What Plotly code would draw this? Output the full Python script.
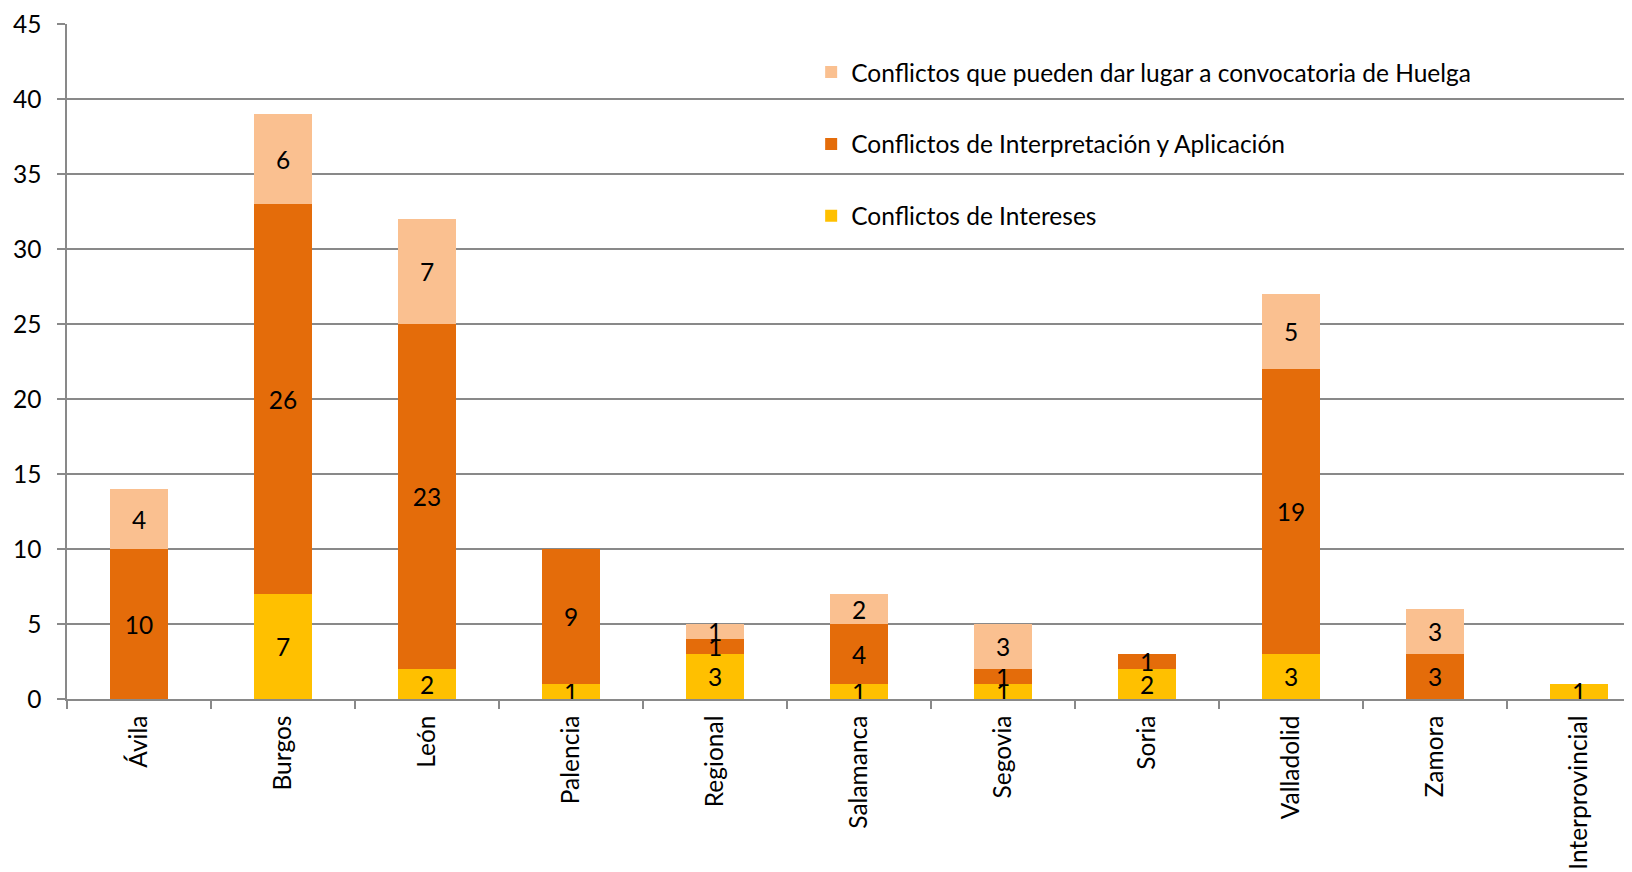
import plotly.graph_objects as go

categories = ["Ávila", "Burgos", "León", "Palencia", "Regional", "Salamanca",
              "Segovia", "Soria", "Valladolid", "Zamora", "Interprovincial"]
intereses = [0, 7, 2, 1, 3, 1, 1, 2, 3, 0, 1]
interpretacion = [10, 26, 23, 9, 1, 4, 1, 1, 19, 3, 0]
huelga = [4, 6, 7, 0, 1, 2, 3, 0, 5, 3, 0]

series = [
    ("Conflictos de Intereses", intereses, "#FFC000", 3),
    ("Conflictos de Interpretación y Aplicación", interpretacion, "#E46C0A", 2),
    ("Conflictos que pueden dar lugar a convocatoria de Huelga", huelga, "#FAC090", 1),
]

FONT = "Lato"
FS = 24.5
fig = go.Figure()
for i, (name, vals, color, rank) in enumerate(series):
    fig.add_trace(go.Bar(
        x=categories, y=vals, name=name, legendgroup=f"g{i}", legendrank=rank,
        marker=dict(color=color, line=dict(width=0)),
        width=0.4,
        text=[str(v) if v else "" for v in vals],
        textposition="inside", insidetextanchor="middle",
        textangle=0, constraintext="none",
        textfont=dict(family=FONT, size=FS, color="black"),
    ))

fig.update_layout(
    width=1632, height=872,
    barmode="stack",
    plot_bgcolor="white", paper_bgcolor="white",
    margin=dict(l=59, r=8, t=16, b=181),
    font=dict(family=FONT, size=FS, color="black"),
    legend=dict(x=0.4755, y=0.962, xanchor="left", yanchor="top",
                traceorder="grouped", tracegroupgap=37,
                font=dict(family=FONT, size=FS, color="black"),
                bgcolor="rgba(0,0,0,0)"),
    xaxis=dict(range=[-0.5, 10.368], showgrid=False, showline=True,
               linecolor="#898989", linewidth=1.5, automargin=False,
               ticks="outside", tickson="boundaries", ticklen=8,
               tickcolor="#898989", tickwidth=1.5, tickangle=-90,
               ticklabelstandoff=5,
               tickfont=dict(family=FONT, size=FS)),
    yaxis=dict(range=[0, 45], dtick=5, showgrid=True, gridcolor="#898989",
               gridwidth=1.5, showline=True, linecolor="#898989", linewidth=1.5,
               ticks="outside", ticklen=8, tickcolor="#898989", tickwidth=1.5,
               zeroline=False, ticklabelstandoff=11, automargin=False,
               tickfont=dict(family=FONT, size=FS)),
)

fig.write_html("out.html")
